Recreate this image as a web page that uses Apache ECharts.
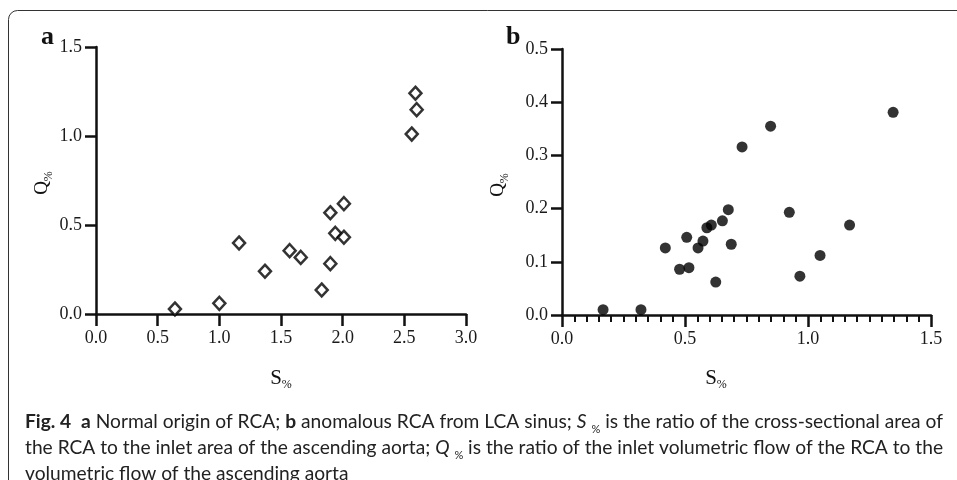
<!DOCTYPE html>
<html>
<head>
<meta charset="utf-8">
<script src="https://cdn.jsdelivr.net/npm/echarts@6/dist/echarts.min.js"></script>
<style>
  html, body { margin: 0; padding: 0; background: #fff; }
  #panel { width: 957px; height: 480px; }
</style>
</head>
<body>
<div id="panel"></div>
<script>
// panel a: normal origin of RCA (S%, Q%)
var normalS = [0.64, 1.00, 1.16, 1.37, 1.57, 1.66, 1.83, 1.90, 1.90, 1.94, 2.01, 2.01, 2.56, 2.60, 2.59];
var normalQ = [0.028, 0.060, 0.399, 0.240, 0.356, 0.318, 0.135, 0.283, 0.569, 0.453, 0.431, 0.620, 1.011, 1.148, 1.240];

// panel b: anomalous RCA from LCA sinus
var anomS = [0.167, 0.321, 0.420, 0.478, 0.507, 0.516, 0.553, 0.573, 0.589, 0.607, 0.625, 0.652, 0.676, 0.688, 0.732, 0.848, 0.924, 0.967, 1.049, 1.169, 1.346];
var anomQ = [0.010, 0.010, 0.126, 0.086, 0.146, 0.089, 0.126, 0.139, 0.164, 0.169, 0.062, 0.177, 0.198, 0.133, 0.316, 0.355, 0.193, 0.073, 0.112, 0.169, 0.381];

var xTicksA = [0, 3, 0.5];
var yTicksA = [0, 1.5, 0.5];
var xTicksB = [0, 1.5, 0.5];
var yTicksB = [0, 0.5, 0.1];

var caption = '{b|Fig. 4}  {b|a} Normal origin of RCA; {b|b} anomalous RCA from LCA sinus; {i|S} {s|%} is the ratio of the cross-sectional area of\n' +
    'the RCA to the inlet area of the ascending aorta; {i|Q} {s|%} is the ratio of the inlet volumetric flow of the RCA to the\n' +
    'volumetric flow of the ascending aorta';

var serif = '"Liberation Serif", "DejaVu Serif", serif';
var sans = 'Lato, "Noto Sans", sans-serif';
var ink = '#111';

function pairs(xs, ys) {
    return xs.map(function (x, i) { return [x, ys[i]]; });
}

function axis(grid, ticks, isX, minor) {
    var ax = {
        type: 'value',
        gridIndex: grid,
        min: ticks[0],
        max: ticks[1],
        interval: ticks[2],
        splitLine: { show: false },
        axisLine: { show: true, onZero: false, lineStyle: { color: ink, width: 2.5 } },
        axisTick: { show: true, inside: false, length: isX ? 12 : 11, lineStyle: { color: ink, width: 2.5 } },
        axisLabel: {
            margin: isX ? 15 : 14,
            color: '#1a1a1a',
            fontSize: 18,
            fontFamily: serif,
            formatter: function (v) { return v.toFixed(1); }
        }
    };
    if (minor) {
        ax.minorTick = { show: true, splitNumber: 10, length: 7, lineStyle: { color: ink, width: 2 } };
    }
    return ax;
}

function axisName(x, y, letter, rotate) {
    return {
        type: 'text',
        x: x, y: y,
        rotation: rotate ? Math.PI / 2 : 0,
        style: {
            text: '{m|' + letter + '}{s|%}',
            align: 'center',
            verticalAlign: 'middle',
            rich: {
                m: { fontSize: rotate ? 19 : 21, fontFamily: serif, fill: '#111', lineHeight: 26 },
                s: { fontSize: 12, fontFamily: serif, fill: '#111', lineHeight: 16, verticalAlign: 'bottom' }
            }
        }
    };
}

var myChart = echarts.init(document.getElementById('panel'), null, { renderer: 'canvas' });

options = {
    backgroundColor: '#fff',
    animation: false,
    grid: [
        { left: 96, right: 491, top: 47, bottom: 166 },
        { left: 562, right: 26, top: 49, bottom: 165 }
    ],
    xAxis: [axis(0, xTicksA, true, false), axis(1, xTicksB, true, true)],
    yAxis: [axis(0, yTicksA, false, false), axis(1, yTicksB, false, false)],
    series: [
        {
            name: 'normal',
            type: 'scatter',
            xAxisIndex: 0, yAxisIndex: 0,
            symbol: 'diamond',
            symbolSize: [12, 13],
            itemStyle: { color: '#fff', borderColor: '#000', borderWidth: 2.5 },
            data: pairs(normalS, normalQ)
        },
        {
            name: 'anomalous',
            type: 'scatter',
            xAxisIndex: 1, yAxisIndex: 1,
            symbol: 'circle',
            symbolSize: 11,
            itemStyle: { color: '#000' },
            data: pairs(anomS, anomQ)
        }
    ],
    graphic: [
        {
            type: 'rect',
            shape: { x: 8.5, y: 10.5, width: 1000, height: 600, r: [9, 0, 0, 0] },
            style: { fill: 'none', stroke: '#333', lineWidth: 1 },
            silent: true
        },
        { type: 'text', x: 41, y: 37, style: { text: 'a', fontSize: 26, fontWeight: 'bold', fontFamily: serif, fill: '#111', verticalAlign: 'middle' } },
        { type: 'text', x: 506, y: 37, style: { text: 'b', fontSize: 26, fontWeight: 'bold', fontFamily: serif, fill: '#111', verticalAlign: 'middle' } },
        axisName(42, 183, 'Q', true),
        axisName(498, 185, 'Q', true),
        axisName(281, 378, 'S', false),
        axisName(716, 378, 'S', false),
        {
            type: 'text',
            x: 25, y: 409,
            style: {
                text: caption,
                fontSize: 19.2,
                fontFamily: sans,
                fill: '#222',
                lineHeight: 26,
                verticalAlign: 'top',
                rich: {
                    b: { fontSize: 19.2, fontFamily: sans, fontWeight: 'bold', fill: '#222', lineHeight: 26 },
                    i: { fontSize: 19.2, fontFamily: sans, fontStyle: 'italic', fill: '#222', lineHeight: 26 },
                    s: { fontSize: 11, fontFamily: sans, fill: '#222', lineHeight: 18, verticalAlign: 'bottom' }
                }
            }
        }
    ]
};

myChart.setOption(options);
</script>
</body>
</html>
